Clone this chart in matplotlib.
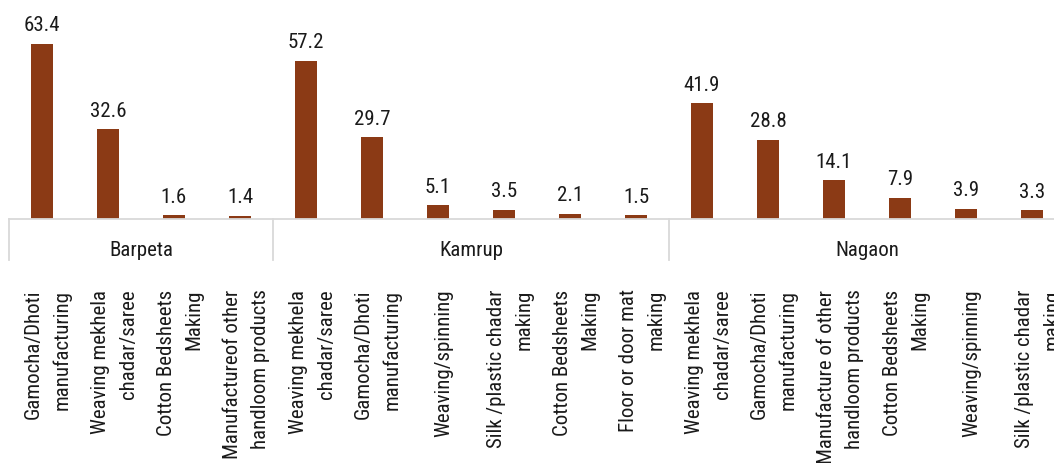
import matplotlib.pyplot as plt
import matplotlib.transforms as mtransforms

plt.rcParams["font.family"] = ["Roboto Condensed", "Liberation Sans", "DejaVu Sans"]

districts = ["Barpeta", "Kamrup", "Nagaon"]

barpeta_labels = [
    "Gamocha/Dhoti\nmanufacturing",
    "Weaving mekhela\nchadar/saree",
    "Cotton Bedsheets\nMaking",
    "Manufactureof other\nhandloom products",
]
barpeta_values = [63.4, 32.6, 1.6, 1.4]

kamrup_labels = [
    "Weaving mekhela\nchadar/saree",
    "Gamocha/Dhoti\nmanufacturing",
    "Weaving/spinning",
    "Silk /plastic chadar\nmaking",
    "Cotton Bedsheets\nMaking",
    "Floor or door mat\nmaking",
]
kamrup_values = [57.2, 29.7, 5.1, 3.5, 2.1, 1.5]

nagaon_labels = [
    "Weaving mekhela\nchadar/saree",
    "Gamocha/Dhoti\nmanufacturing",
    "Manufacture of other\nhandloom products",
    "Cotton Bedsheets\nMaking",
    "Weaving/spinning",
    "Silk /plastic chadar\nmaking",
]
nagaon_values = [41.9, 28.8, 14.1, 7.9, 3.9, 3.3]

groups = [barpeta_labels, kamrup_labels, nagaon_labels]
labels = barpeta_labels + kamrup_labels + nagaon_labels
values = barpeta_values + kamrup_values + nagaon_values

BAR = "#8B3A15"
GRID = "#d9d9d9"
TEXT = "#1a1a1a"
FS = 15

W, H = 1054, 463
fig = plt.figure(figsize=(W / 100, H / 100), dpi=100)
# axes runs slightly past the right edge, like the original crop
ax = fig.add_axes([9 / W, 243.5 / H, 1056 / W, 219.5 / H])

x = list(range(len(values)))
ax.bar(x, values, width=0.32, color=BAR, zorder=2)
ax.set_xlim(-0.5, len(values) - 0.5)
ax.set_ylim(0, 79.2)

for s in ["top", "right", "left"]:
    ax.spines[s].set_visible(False)
ax.spines["bottom"].set_color(GRID)
ax.spines["bottom"].set_linewidth(1.3)
ax.set_yticks([])
ax.set_xticks([])

for xi, v in zip(x, values):
    ax.annotate(f"{v:.1f}", (xi, v), xytext=(0, 9), textcoords="offset points",
                ha="center", va="baseline", fontsize=FS, color=TEXT)

trans = mtransforms.blended_transform_factory(ax.transData, ax.transAxes)
shift = mtransforms.ScaledTranslation(6 / 100, 0, fig.dpi_scale_trans)

# group separators and district names
start = 0
for name, grp in zip(districts, groups):
    end = start + len(grp)
    ax.plot([start - 0.5, start - 0.5], [0, -40 / 219.5], color=GRID, lw=1.3,
            transform=trans, clip_on=False)
    ax.text((start + end - 1) / 2, -31 / 219.5, name, transform=trans,
            ha="center", va="center", fontsize=FS, color=TEXT)
    start = end
ax.plot([start - 0.5, start - 0.5], [0, -40 / 219.5], color=GRID, lw=1.3,
        transform=trans, clip_on=False)

# rotated category labels
for xi, lab in zip(x, labels):
    ax.text(xi, -70 / 219.5, lab, transform=trans + shift, rotation=90,
            ha="center", va="top", multialignment="right", linespacing=1.6,
            fontsize=FS, color=TEXT)

fig.savefig("out.png", dpi=100)
